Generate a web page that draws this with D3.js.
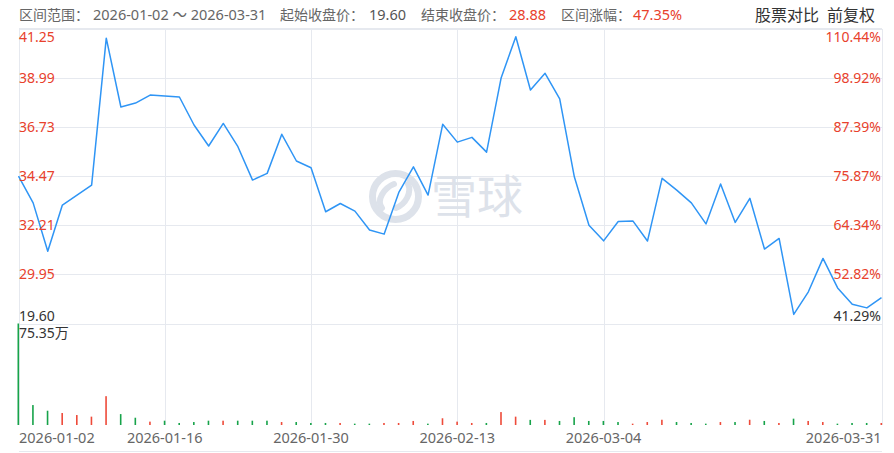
<!DOCTYPE html>
<html>
<head>
<meta charset="utf-8">
<script src="https://cdn.jsdelivr.net/npm/d3@7"></script>
<style>
  body { margin: 0; background: #fff; }
  svg { display: block; font-family: "Noto Sans", "Noto Sans CJK SC", sans-serif; }
</style>
</head>
<body>
<svg></svg>
<script>
var dates = [
  "2026-01-02", "2026-01-05", "2026-01-06", "2026-01-07", "2026-01-08", "2026-01-09",
  "2026-01-12", "2026-01-13", "2026-01-14", "2026-01-15", "2026-01-16",
  "2026-01-19", "2026-01-20", "2026-01-21", "2026-01-22", "2026-01-23",
  "2026-01-26", "2026-01-27", "2026-01-28", "2026-01-29", "2026-01-30",
  "2026-02-02", "2026-02-03", "2026-02-04", "2026-02-05", "2026-02-06",
  "2026-02-09", "2026-02-10", "2026-02-11", "2026-02-12", "2026-02-13",
  "2026-02-16", "2026-02-20",
  "2026-02-23", "2026-02-24", "2026-02-25", "2026-02-26", "2026-02-27",
  "2026-03-02", "2026-03-03", "2026-03-04", "2026-03-05", "2026-03-06",
  "2026-03-09", "2026-03-10", "2026-03-11", "2026-03-12", "2026-03-13",
  "2026-03-16", "2026-03-17", "2026-03-18", "2026-03-19", "2026-03-20",
  "2026-03-23", "2026-03-24", "2026-03-25", "2026-03-26", "2026-03-27",
  "2026-03-30", "2026-03-31"
];

var closes = [
  34.48, 33.25, 31.02, 33.15, 33.61, 34.07, 40.84, 37.67, 37.85, 38.22,
  38.18, 38.13, 36.84, 35.87, 36.91, 35.84, 34.30, 34.61, 36.41, 35.18,
  34.87, 32.84, 33.22, 32.87, 32.00, 31.81, 33.73, 34.91, 33.61, 36.87,
  36.05, 36.27, 35.59, 39.02, 40.91, 38.45, 39.22, 38.04, 34.45, 32.22,
  31.50, 32.39, 32.42, 31.49, 34.38, 33.84, 33.25, 32.28, 34.12, 32.35,
  33.46, 31.12, 31.61, 28.11, 29.15, 30.69, 29.33, 28.58, 28.41, 28.88
];

// 成交量 (万)
var volumes = [
  75.35, 14.8, 10.6, 8.9, 7.4, 6.2, 21.4, 8.1, 5.4, 2.5,
  3.2, 1.5, 2.2, 3.2, 3.2, 3.2, 3.2, 3.2, 2.2, 2.2,
  1.5, 1.5, 1.5, 1.0, 1.0, 1.5, 1.5, 3.0, 1.0, 5.0,
  2.5, 1.5, 1.5, 9.6, 6.2, 3.8, 3.8, 3.0, 5.8, 3.0,
  3.0, 2.2, 1.0, 2.2, 3.9, 2.2, 1.5, 1.0, 2.2, 2.2,
  3.9, 3.0, 1.5, 4.7, 3.0, 2.2, 1.0, 1.5, 1.5, 1.5
];

// 1 = 红 (涨), 0 = 绿 (跌)
var volumeUp = [
  0, 0, 0, 1, 1, 1, 1, 0, 0, 1,
  0, 0, 0, 0, 1, 0, 0, 0, 1, 0,
  0, 0, 1, 0, 0, 1, 1, 1, 0, 1,
  1, 1, 0, 1, 1, 0, 1, 0, 0, 0,
  0, 0, 1, 1, 1, 0, 0, 0, 1, 0,
  1, 0, 1, 0, 1, 1, 0, 0, 0, 1
];

var priceTicks = [41.25, 38.99, 36.73, 34.47, 32.21, 29.95, 27.69];
var priceLabels = ["41.25", "38.99", "36.73", "34.47", "32.21", "29.95", "19.60"];
var pctLabels = ["110.44%", "98.92%", "87.39%", "75.87%", "64.34%", "52.82%", "41.29%"];
var dateTicks = ["2026-01-02", "2026-01-16", "2026-01-30", "2026-02-13", "2026-03-04", "2026-03-31"];
var volumeMax = 75.35;

var svgWidth = 894, svgHeight = 453;
var plotLeft = 18.5, plotRight = 881.5, plotTop = 28.5, priceBottom = 323.5, volBottom = 425;

var svg = d3.select("svg")
  .attr("width", svgWidth)
  .attr("height", svgHeight);

var x = d3.scalePoint()
  .domain(dates)
  .range([plotLeft, plotRight]);

var y = d3.scaleLinear()
  .domain([27.69, 41.25])
  .range([priceBottom, plotTop + 0.8]);

var yVol = d3.scaleLinear()
  .domain([0, volumeMax])
  .range([volBottom, priceBottom]);

var gridColor = "#e6e9ef";

// header
var header = svg.append("g").attr("font-size", 14);
var headerParts = [
  { x: 19, text: "区间范围：", fill: "#666", size: 14 },
  { x: 93, text: "2026-01-02 ～ 2026-03-31", fill: "#666", size: 14.5 },
  { x: 280, text: "起始收盘价：", fill: "#666", size: 14 },
  { x: 369, text: "19.60", fill: "#555", size: 14.5 },
  { x: 421, text: "结束收盘价：", fill: "#666", size: 14 },
  { x: 509, text: "28.88", fill: "#e8412c", size: 14.5 },
  { x: 561, text: "区间涨幅：", fill: "#666", size: 14 },
  { x: 633, text: "47.35%", fill: "#e8412c", size: 14.5 },
  { x: 755, text: "股票对比", fill: "#333", size: 16 },
  { x: 827, text: "前复权", fill: "#333", size: 16 }
];
header.selectAll("text")
  .data(headerParts)
  .enter().append("text")
  .attr("x", function(d) { return d.x; })
  .attr("y", function(d) { return d.size > 15 ? 21 : 20; })
  .attr("fill", function(d) { return d.fill; })
  .attr("font-size", function(d) { return d.size; })
  .text(function(d) { return d.text; });

// grid
var grid = svg.append("g").attr("stroke", gridColor).attr("stroke-width", 1).attr("shape-rendering", "crispEdges");
grid.selectAll(".h")
  .data(priceTicks)
  .enter().append("line")
  .attr("x1", plotLeft).attr("x2", plotRight)
  .attr("y1", function(d) { return Math.round(y(d)) + 0.5; })
  .attr("y2", function(d) { return Math.round(y(d)) + 0.5; });
grid.append("line").attr("x1", plotLeft).attr("x2", plotRight).attr("y1", plotTop).attr("y2", plotTop);
grid.selectAll(".v")
  .data(dateTicks)
  .enter().append("line")
  .attr("x1", function(d) { return Math.round(x(d)) + 0.5; })
  .attr("x2", function(d) { return Math.round(x(d)) + 0.5; })
  .attr("y1", plotTop).attr("y2", volBottom);
grid.append("line").attr("x1", plotLeft).attr("x2", plotRight).attr("y1", 451.5).attr("y2", 451.5);

// watermark
var wm = svg.append("g").attr("fill", "none").attr("stroke", "#dde2ea");
wm.append("circle").attr("cx", 395.5).attr("cy", 196.5).attr("r", 23).attr("stroke-width", 7);
wm.append("path")
  .attr("d", "M382,208 C376,200 384,188 394,184 M396,208 C406,204 412,192 408,184")
  .attr("stroke-width", 6).attr("stroke-linecap", "round");
svg.append("text")
  .attr("x", 431).attr("y", 213)
  .attr("font-size", 46)
  .attr("font-family", "Noto Sans CJK SC")
  .attr("fill", "#dde2ea")
  .text("雪球");

// volume bars
svg.append("g")
  .selectAll("rect")
  .data(volumes)
  .enter().append("rect")
  .attr("x", function(d, i) { return x(dates[i]) - 1; })
  .attr("width", 1.6)
  .attr("y", function(d) { return yVol(d); })
  .attr("height", function(d) { return volBottom - yVol(d); })
  .attr("fill", function(d, i) { return volumeUp[i] ? "#ee4b3a" : "#17a34a"; });

// price line
var line = d3.line()
  .x(function(d, i) { return x(dates[i]); })
  .y(function(d) { return y(d); });

svg.append("path")
  .datum(closes)
  .attr("fill", "none")
  .attr("stroke", "#2f95f5")
  .attr("stroke-width", 1.5)
  .attr("stroke-linejoin", "round")
  .attr("d", line);

// axis labels
var labelG = svg.append("g").attr("font-size", 14);
function labelY(i) {
  var v = y(priceTicks[i]);
  if (i === 0) return v + 13;
  if (i === priceTicks.length - 1) return v - 3;
  return v + 5;
}
labelG.selectAll(".l")
  .data(priceLabels)
  .enter().append("text")
  .attr("x", 19)
  .attr("y", function(d, i) { return labelY(i); })
  .attr("fill", function(d, i) { return i === priceLabels.length - 1 ? "#333" : "#e8412c"; })
  .text(function(d) { return d; });
labelG.selectAll(".r")
  .data(pctLabels)
  .enter().append("text")
  .attr("x", 881)
  .attr("text-anchor", "end")
  .attr("y", function(d, i) { return labelY(i); })
  .attr("fill", function(d, i) { return i === pctLabels.length - 1 ? "#333" : "#e8412c"; })
  .text(function(d) { return d; });
labelG.append("text")
  .attr("x", 19).attr("y", 338)
  .attr("fill", "#333")
  .text(volumeMax.toFixed(2) + "万");

// date axis
labelG.selectAll(".d")
  .data(dateTicks)
  .enter().append("text")
  .attr("x", function(d, i) { return i === 0 ? 19 : x(d); })
  .attr("y", 443)
  .attr("text-anchor", function(d, i) { return i === 0 ? "start" : (i === dateTicks.length - 1 ? "end" : "middle"); })
  .attr("fill", "#666")
  .attr("font-size", 14.5)
  .text(function(d) { return d; });
</script>
</body>
</html>
